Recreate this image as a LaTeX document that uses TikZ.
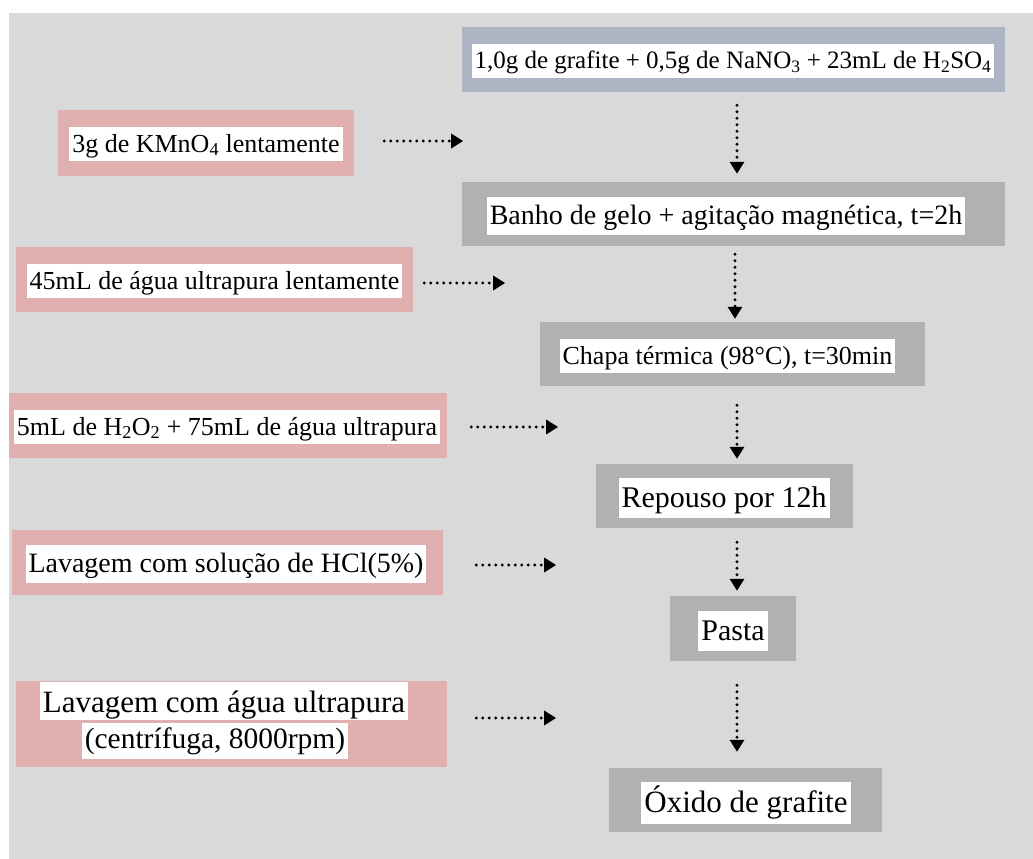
\documentclass[tikz,border=0pt]{standalone}
\usepackage{fontspec}
\setmainfont{Liberation Serif}
\usetikzlibrary{arrows.meta,calc}
\definecolor{bgcol}{HTML}{D9D9D9}
\definecolor{bluegray}{HTML}{ADB4C3}
\definecolor{boxgray}{HTML}{B2B0B3}
\definecolor{pinkbox}{HTML}{E0B0B0}
\newcommand\fsz[1]{\fontsize{#1}{#1}\selectfont}
\tikzset{
  outerbox/.style={draw=none, inner sep=0pt},
  procbox/.style={outerbox, fill=boxgray},
  startbox/.style={outerbox, fill=bluegray},
  addbox/.style={outerbox, fill=pinkbox},
  wtext/.style={fill=white, inner xsep=3pt, inner ysep=0pt, font=\fsz{#1},
    text height={0.98*#1}, text depth={0.36*#1}},
  arr/.style={line width=3.3pt, line cap=round, dash pattern=on 0pt off 6.5pt,
    -{Triangle[length=12pt,width=14pt]}}
}
\begin{document}
\begin{tikzpicture}[x=1pt,y=-1pt]
\useasboundingbox (0,0) rectangle (1033,859);
\fill[bgcol] (9,13) rectangle (1033,859);
\coordinate (ax) at (737,0);

% main column
\node[startbox, minimum width=543, minimum height=65] (b1) at (733.5,59.5) {};
\node[wtext=25] (b1t) at (733,61) {1,0g de grafite + 0,5g de NaNO\textsubscript{3} + 23mL de H\textsubscript{2}SO\textsubscript{4}};

\node[procbox, minimum width=543, minimum height=64] (b2) at (733.5,214) {};
\node[wtext=28] (b2t) at (726,216) {Banho de gelo + agitação magnética, t=2h};

\node[procbox, minimum width=385, minimum height=64] (b3) at (732.5,354) {};
\node[wtext=26] (b3t) at (727.5,356) {Chapa térmica (98°C), t=30min};

\node[procbox, minimum width=257, minimum height=64] (b4) at (724.5,496) {};
\node[wtext=30] (b4t) at (724,498) {Repouso por 12h};

\node[procbox, minimum width=126, minimum height=65] (b5) at (733,628.5) {};
\node[wtext=30] (b5t) at (733,631) {Pasta};

\node[procbox, minimum width=273, minimum height=64] (b6) at (745.5,800) {};
\node[wtext=31] (b6t) at (746,803) {Óxido de grafite};

% additions
\node[addbox, minimum width=296, minimum height=66] (p1) at (206,143) {};
\node[wtext=26] (p1t) at (206,144) {3g de KMnO\textsubscript{4} lentamente};

\node[addbox, minimum width=397, minimum height=65] (p2) at (214.5,279.5) {};
\node[wtext=26] (p2t) at (214.5,281) {45mL de água ultrapura lentamente};

\node[addbox, minimum width=438, minimum height=65] (p3) at (228,425.5) {};
\node[wtext=26] (p3t) at (227,427) {5mL de H\textsubscript{2}O\textsubscript{2} + 75mL de água ultrapura};

\node[addbox, minimum width=431, minimum height=65] (p4) at (227.5,562.5) {};
\node[wtext=28] (p4t) at (226,564) {Lavagem com solução de HCl(5\%)};

\node[addbox, minimum width=431, minimum height=86] (p5) at (231.5,724) {};
\node[wtext=31, text depth=7] (p5a) at (224,701) {Lavagem com água ultrapura};
\node[wtext=29.5, text height=26] (p5b) at (215,741) {(centrífuga, 8000rpm)};

% vertical connectors
\draw[arr] ($(b1.south -| ax)+(0,13)$) -- ($(b2.north -| ax)+(0,-8)$);
\draw[arr] ($(b2.south -| ax)+(-2,8)$) -- ($(b3.north -| ax)+(-2,-3)$);
\draw[arr] ($(b3.south -| ax)+(0,19)$) -- ($(b4.north -| ax)+(0,-5)$);
\draw[arr] ($(b4.south -| ax)+(0,14)$) -- ($(b5.north -| ax)+(0,-5)$);
\draw[arr] ($(b5.south -| ax)+(0,24)$) -- ($(b6.north -| ax)+(0,-16)$);

% horizontal connectors
\draw[arr] ($(p1.east)+(30,-2)$) -- ++(79,0);
\draw[arr] ($(p2.east)+(11,3.5)$) -- ++(81,0);
\draw[arr] ($(p3.east)+(24,1.5)$) -- ++(87,0);
\draw[arr] ($(p4.east)+(33,2.5)$) -- ++(80,0);
\draw[arr] ($(p5.east)+(29,-6)$) -- ++(80,0);
\end{tikzpicture}
\end{document}
